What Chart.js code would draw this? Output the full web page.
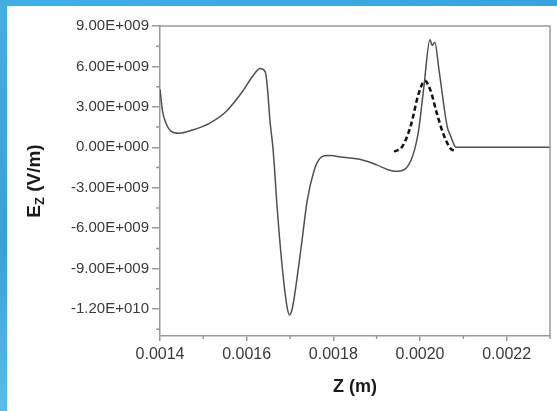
<!DOCTYPE html>
<html>
<head>
<meta charset="utf-8">
<script src="https://cdn.jsdelivr.net/npm/chart.js@4"></script>
<style>
  html, body { margin:0; padding:0; }
  body { width:557px; height:411px; overflow:hidden; position:relative;
    background: linear-gradient(160deg, #46aee0 0%, #3c9fd6 40%, #5cc0ea 70%, #3a9ad2 100%); }
  #panel { position:absolute; left:7px; top:6px; width:550px; height:405px; background:#ffffff; }
  #wrap { position:absolute; left:0; top:0; width:557px; height:411px; }
</style>
</head>
<body>
<div id="panel"></div>
<div id="wrap"><canvas id="c" width="557" height="411"></canvas></div>
<script>
// ---- data ----
const zSolid  = [0.00140, 0.001406, 0.001414, 0.001425, 0.001444, 0.001475, 0.001514, 0.001552, 0.00159, 0.001613,
                 0.001631, 0.001643, 0.001648, 0.001654, 0.00166, 0.001664, 0.001669, 0.001675, 0.001686, 0.001693, 0.001699,
                 0.001705, 0.00171, 0.001725, 0.00174, 0.001756, 0.001767, 0.001779, 0.001795, 0.001813, 0.001867,
                 0.00190, 0.001928, 0.001944, 0.001966, 0.001995, 0.002009, 0.002023, 0.002028, 0.002034, 0.002044,
                 0.002063, 0.00207, 0.002081, 0.002084, 0.0023];
const ezSolid = [4.3e9, 2.64e9, 1.78e9, 1.2e9, 1.04e9, 1.28e9, 1.78e9, 2.64e9, 4.12e9, 5.23e9,
                 5.85e9, 5.6e9, 4.37e9, 1.9e9, 0.17e9, -1.44e9, -3.9e9, -6.4e9, -10.1e9, -11.8e9, -12.45e9,
                 -12.0e9, -11.1e9, -7.6e9, -3.9e9, -1.68e9, -0.9e9, -0.62e9, -0.6e9, -0.7e9, -0.94e9,
                 -1.3e9, -1.68e9, -1.78e9, -1.6e9, 0.9e9, 4.5e9, 8.0e9, 7.55e9, 7.8e9, 5.7e9,
                 1.5e9, 0.9e9, 0.05e9, 0, 0];
const zDashed  = [0.00194, 0.001959, 0.001978, 0.001997, 0.002011, 0.002024, 0.002039, 0.002055, 0.00207, 0.00208];
const ezDashed = [-0.33e9, 0.05e9, 1.53e9, 4.0e9, 4.93e9, 4.24e9, 2.5e9, 0.9e9, -0.07e9, -0.27e9];

const xTicks = [0.0014, 0.0016, 0.0018, 0.0020, 0.0022];
const xTickLabels = ["0.0014", "0.0016", "0.0018", "0.0020", "0.0022"];
const xMinorTicks = [0.0015, 0.0017, 0.0019, 0.0021, 0.0023];
const yTicks = [-1.2e10, -9e9, -6e9, -3e9, 0, 3e9, 6e9, 9e9];
const yTickLabels = ["-1.20E+010", "-9.00E+009", "-6.00E+009", "-3.00E+009", "0.00E+000", "3.00E+009", "6.00E+009", "9.00E+009"];
const yMinorTicks = [-1.35e10, -1.05e10, -7.5e9, -4.5e9, -1.5e9, 1.5e9, 4.5e9, 7.5e9];
const xRange = [0.0014, 0.0023];
const yRange = [-1.4e10, 9e9];
const xTitle = "Z (m)";
const yTitleMain = "E", yTitleSub = "Z", yTitleRest = " (V/m)";

const FONT = "'Liberation Sans', Arial, sans-serif";
const AXIS = '#9a9a9a';

const framePlugin = {
  id: 'frame',
  afterDraw(chart) {
    const {ctx, chartArea: a, scales} = chart;
    ctx.save();
    ctx.strokeStyle = AXIS; ctx.lineWidth = 1.5;
    ctx.beginPath();
    ctx.moveTo(a.left, a.top); ctx.lineTo(a.right, a.top); ctx.lineTo(a.right, a.bottom);
    ctx.stroke();
    // minor ticks
    ctx.beginPath();
    yMinorTicks.forEach(v => { const p = scales.y.getPixelForValue(v); ctx.moveTo(a.left - 4, p); ctx.lineTo(a.left, p); });
    xMinorTicks.forEach(v => { const p = scales.x.getPixelForValue(v); ctx.moveTo(p, a.bottom); ctx.lineTo(p, a.bottom + 3); });
    ctx.stroke();
    // axis titles
    ctx.fillStyle = '#1a1a1a';
    ctx.font = "bold 18px " + FONT;
    ctx.textAlign = 'center'; ctx.textBaseline = 'middle';
    ctx.fillText(xTitle, (a.left + a.right) / 2, 387);
    ctx.translate(33, (a.top + a.bottom) / 2);
    ctx.rotate(-Math.PI / 2);
    ctx.textAlign = 'left'; ctx.textBaseline = 'alphabetic';
    const big = "bold 19px " + FONT, small = "bold 13px " + FONT;
    ctx.font = big; const w1 = ctx.measureText(yTitleMain).width, w3 = ctx.measureText(yTitleRest).width;
    ctx.font = small; const w2 = ctx.measureText(yTitleSub).width;
    let x0 = -(w1 + w2 + w3) / 2;
    ctx.font = big; ctx.fillText(yTitleMain, x0, 7);
    ctx.font = small; ctx.fillText(yTitleSub, x0 + w1, 11);
    ctx.font = big; ctx.fillText(yTitleRest, x0 + w1 + w2, 7);
    ctx.restore();
  }
};

new Chart(document.getElementById('c'), {
  type: 'line',
  data: {
    datasets: [
      { data: zSolid.map((z, i) => ({x: z, y: ezSolid[i]})), borderColor: '#505050', borderWidth: 1.5,
        pointRadius: 0, cubicInterpolationMode: 'monotone', fill: false },
      { data: zDashed.map((z, i) => ({x: z, y: ezDashed[i]})), borderColor: '#111111', borderWidth: 2.5,
        borderDash: [5, 3], pointRadius: 0, cubicInterpolationMode: 'monotone', fill: false }
    ]
  },
  options: {
    responsive: false, animation: false, devicePixelRatio: 1,
    layout: { padding: { top: 26, right: 7, bottom: 0, left: 0 } },
    plugins: { legend: { display: false }, tooltip: { enabled: false } },
    scales: {
      x: {
        type: 'linear', min: xRange[0], max: xRange[1],
        afterBuildTicks: (s) => { s.ticks = xTicks.map(v => ({value: v})); },
        afterFit: (s) => { s.height = 75; },
        ticks: { color: '#3a3a3a', font: { family: FONT, size: 16 }, padding: 4, maxRotation: 0,
                 callback: (v, i) => xTickLabels[i] },
        grid: { drawOnChartArea: false, drawTicks: true, tickLength: 5, color: AXIS, lineWidth: 1.5 },
        border: { display: true, color: AXIS, width: 1.5 }
      },
      y: {
        type: 'linear', min: yRange[0], max: yRange[1],
        afterBuildTicks: (s) => { s.ticks = yTicks.map(v => ({value: v})); },
        afterFit: (s) => { s.width = 160; },
        ticks: { color: '#3a3a3a', font: { family: FONT, size: 15 }, padding: 3,
                 callback: (v, i) => yTickLabels[i] },
        grid: { drawOnChartArea: false, drawTicks: true, tickLength: 8, color: AXIS, lineWidth: 1.5 },
        border: { display: true, color: AXIS, width: 1.5 }
      }
    }
  },
  plugins: [framePlugin]
});
</script>
</body>
</html>
